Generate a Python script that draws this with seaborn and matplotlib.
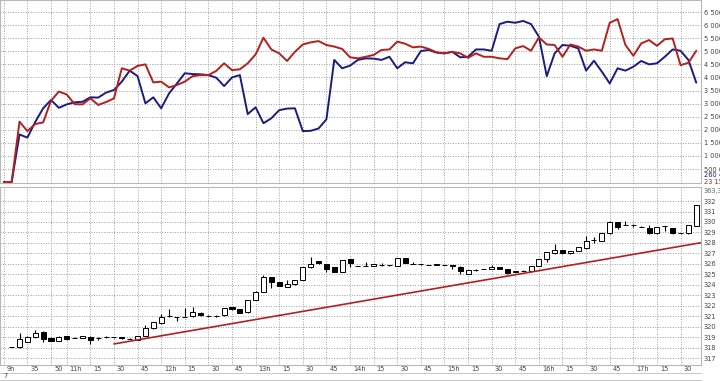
import numpy as np
import pandas as pd
import matplotlib
matplotlib.use("Agg")
import matplotlib.pyplot as plt
import matplotlib.transforms as mtransforms
from matplotlib import font_manager
from matplotlib.lines import Line2D
import seaborn as sns

# ---------------- data ----------------
# time slots (5-minute steps, 0 = 11h00)
line_slots = list(range(-8, 81))
blue_vals = [0.0, 0.0, 1.82, 1.70, 2.30, 2.82, 3.14, 2.84, 2.97, 3.05, 3.07, 3.24, 3.23, 3.42, 3.52,
             3.84, 4.26, 4.05, 3.01, 3.24, 2.82, 3.39, 3.77, 4.16, 4.13, 4.12, 4.09, 3.99, 3.67,
             4.00, 4.09, 2.60, 2.86, 2.25, 2.44, 2.75, 2.81, 2.82, 1.95, 1.96, 2.05, 2.40, 4.67,
             4.35, 4.45, 4.67, 4.73, 4.72, 4.67, 4.79, 4.35, 4.58, 4.54, 5.01, 5.05, 4.95, 4.92,
             4.98, 4.77, 4.79, 5.07, 5.07, 5.02, 6.04, 6.13, 6.09, 6.16, 6.04, 5.56, 4.05, 4.92,
             5.24, 5.21, 5.11, 4.26, 4.64, 4.22, 3.77, 4.35, 4.26, 4.41, 4.63, 4.50, 4.54, 4.79,
             5.07, 5.02, 4.67, 3.80]
red_vals = [0.0, 0.0, 2.31, 1.95, 2.22, 2.28, 3.11, 3.46, 3.35, 2.98, 2.97, 3.20, 2.95, 3.06, 3.20,
            4.35, 4.26, 4.44, 4.50, 3.81, 3.84, 3.62, 3.71, 3.84, 4.05, 4.09, 4.09, 4.25, 4.54,
            4.28, 4.31, 4.54, 4.88, 5.52, 5.07, 4.92, 4.63, 4.98, 5.26, 5.34, 5.39, 5.24, 5.18,
            5.09, 4.77, 4.73, 4.79, 4.86, 5.05, 5.07, 5.37, 5.29, 5.15, 5.18, 5.09, 4.96, 4.92,
            4.98, 4.92, 4.75, 4.92, 4.79, 4.79, 4.73, 4.70, 5.11, 5.20, 5.02, 5.53, 5.26, 5.24,
            4.79, 5.26, 5.18, 5.02, 5.07, 5.02, 6.09, 6.23, 5.24, 4.83, 5.30, 5.43, 5.21, 5.46,
            5.49, 4.47, 4.56, 5.02]

candle_slots = list(range(-7, 81))
opens = [318.08, 318.05, 318.56, 319.04, 319.52, 318.94, 318.66, 319.10, 318.94, 318.90, 319.04,
         318.90, 318.97, 318.97, 319.04, 318.85, 318.72, 319.10, 319.83, 320.31, 321.00, 320.90,
         320.95, 320.99, 321.33, 321.04, 321.04, 321.08, 321.84, 321.65, 321.36, 322.54, 323.34,
         324.71, 324.29, 323.80, 324.04, 324.45, 325.66, 326.27, 325.98, 325.66, 325.20, 326.43,
         325.80, 325.80, 325.80, 325.90, 325.86, 325.80, 326.58, 325.98, 325.95, 325.90, 325.90,
         325.90, 325.90, 325.73, 325.06, 325.40, 325.50, 325.50, 325.66, 325.47, 325.25, 325.35,
         325.28, 325.82, 326.46, 326.99, 327.32, 327.00, 327.22, 327.48, 328.27, 328.20, 328.90,
         329.96, 329.70, 329.70, 329.55, 329.45, 328.90, 329.60, 329.45, 328.90, 328.90, 329.65]
highs = [318.08, 319.36, 319.15, 319.68, 319.60, 318.98, 319.08, 319.14, 319.00, 319.12, 319.08,
         319.06, 319.12, 319.00, 319.06, 318.88, 319.12, 320.15, 320.46, 321.20, 321.65, 320.95,
         321.75, 321.85, 321.36, 321.15, 321.15, 321.82, 321.86, 321.67, 322.56, 323.36, 324.95,
         324.73, 324.31, 324.45, 324.47, 325.68, 326.62, 326.29, 326.00, 325.68, 326.38, 326.45,
         325.82, 326.20, 326.00, 326.05, 325.88, 326.60, 326.60, 326.20, 325.97, 325.92, 326.02,
         325.92, 325.92, 325.75, 325.46, 325.50, 325.52, 325.85, 325.68, 325.49, 325.35, 325.37,
         325.84, 326.48, 327.12, 327.87, 327.34, 327.22, 327.60, 328.70, 328.60, 328.99, 330.05,
         329.98, 330.08, 329.85, 329.57, 329.70, 329.50, 329.62, 329.47, 328.92, 329.72, 331.64]
lows = [318.08, 318.00, 318.50, 318.90, 318.56, 318.62, 318.62, 318.76, 318.88, 318.88, 318.35,
        318.70, 318.95, 318.95, 318.86, 318.82, 318.70, 319.08, 319.80, 320.30, 320.95, 320.50,
        320.93, 320.97, 321.05, 320.95, 320.95, 321.05, 321.63, 321.30, 321.34, 322.52, 323.32,
        323.66, 323.89, 323.78, 324.02, 324.43, 325.64, 326.02, 325.22, 325.23, 325.18, 325.70,
        325.78, 325.78, 325.78, 325.75, 325.84, 325.78, 326.08, 325.96, 325.93, 325.88, 325.88,
        325.88, 325.50, 325.00, 325.04, 325.30, 325.48, 325.48, 325.52, 325.07, 325.20, 325.33,
        325.26, 325.80, 326.20, 326.97, 326.97, 326.98, 327.20, 327.46, 328.00, 328.18, 328.88,
        329.30, 329.68, 329.55, 329.53, 328.88, 328.88, 329.10, 328.88, 328.88, 328.88, 329.63]
closes = [318.08, 318.80, 319.04, 319.42, 318.80, 318.66, 319.04, 318.80, 318.94, 319.10, 318.72,
          318.90, 318.97, 318.97, 318.88, 318.85, 319.10, 319.83, 320.44, 320.95, 321.00, 320.90,
          320.95, 321.40, 321.08, 321.04, 321.04, 321.80, 321.65, 321.33, 322.54, 323.34, 324.71,
          324.29, 323.91, 324.07, 324.45, 325.66, 325.98, 326.04, 325.50, 325.25, 326.36, 326.04,
          325.80, 325.80, 325.98, 325.90, 325.86, 326.58, 326.10, 325.98, 325.95, 325.90, 326.00,
          325.90, 325.75, 325.31, 325.44, 325.40, 325.50, 325.66, 325.54, 325.09, 325.33, 325.35,
          325.82, 326.46, 327.10, 327.32, 326.99, 327.20, 327.57, 328.18, 328.27, 328.97, 330.03,
          329.55, 329.70, 329.70, 329.55, 328.90, 329.48, 329.60, 328.90, 328.90, 329.70, 331.62]

trend_x = [6.0, 80.6]
trend_y = [318.35, 328.02]

tick_slots = [-8, -5, -2, 0, 3, 6, 9, 12, 15, 18, 21, 24, 27, 30, 33, 36, 39, 42, 45, 48,
              51, 54, 57, 60, 63, 66, 69, 72, 75, 78]
tick_labels = ["9h", "35", "50", "11h", "15", "30", "45", "12h", "15", "30", "45", "13h", "15",
               "30", "45", "14h", "15", "30", "45", "15h", "15", "30", "45", "16h", "15", "30",
               "45", "17h", "15", "30"]
top_ticks = [0.5, 1.0, 1.5, 2.0, 2.5, 3.0, 3.5, 4.0, 4.5, 5.0, 5.5, 6.0, 6.5]
top_tick_labels = ["500 000", "1 000 000", "1 500 000", "2 000 000", "2 500 000", "3 000 000",
                   "3 500 000", "4 000 000", "4 500 000", "5 000 000", "5 500 000", "6 000 000",
                   "6 500 000"]
bottom_ticks = list(range(317, 333))
date_label = "7"

# ---------------- style ----------------
sns.set_style("white")
plt.rcParams['font.family'] = ['DejaVu Sans']


def has_font(name):
    try:
        font_manager.findfont(name, fallback_to_default=False)
        return True
    except Exception:
        return False


NARROW = "Liberation Sans Narrow" if has_font("Liberation Sans Narrow") else "DejaVu Sans"
BLUE = "#1b1b86"
RED = "#b3201f"
GRID = dict(color="#9c9c9c", linestyle=(0, (1, 1.6)), linewidth=0.7)
SPINE = "#b8b8b8"
FS = 4.8
TXT = "#444444"

fig = plt.figure(figsize=(7.2, 3.81), dpi=100)
W, H = 720, 381
xr = 701 / W
ax1 = fig.add_axes([0, (H - 183) / H, xr, 183 / H])
ax2 = fig.add_axes([0, (H - 365) / H, xr, (365 - 187) / H])

xlim = (-8.48, 80.6)

# ---- top panel ----
df = pd.DataFrame({"slot": line_slots * 2,
                   "value": blue_vals + red_vals,
                   "series": ["blue"] * len(line_slots) + ["red"] * len(line_slots)})
sns.lineplot(data=df, x="slot", y="value", hue="series",
             palette={"blue": BLUE, "red": RED}, linewidth=1.4, ax=ax1, legend=False)
ax1.set_xlim(*xlim)
ax1.set_ylim(-0.034, 6.96)
ax1.set_xticks(tick_slots)
ax1.set_yticks(top_ticks)
ax1.set_yticklabels(top_tick_labels, family=NARROW)
ax1.yaxis.tick_right()
ax1.tick_params(axis="y", length=0, pad=2.0, labelsize=FS, labelcolor=TXT)
ax1.tick_params(axis="x", length=0, labelbottom=False)
ax1.grid(True, **GRID)
ax1.set_xlabel("")
ax1.set_ylabel("")

off = mtransforms.ScaledTranslation(3 / 100, 0, fig.dpi_scale_trans)
tr1 = mtransforms.blended_transform_factory(ax1.transAxes, ax1.transData) + off
ax1.text(1.0, 0.26, "260 414", transform=tr1, fontsize=FS, color=BLUE, va="center", ha="left",
         family=NARROW)
ax1.text(1.0, 0.023, "23 159", transform=tr1, fontsize=FS, color=RED, va="center", ha="left",
         family=NARROW)

# ---- bottom panel ----
o = np.array(opens)
c = np.array(closes)
xs = np.array(candle_slots)
ax2.vlines(xs, lows, highs, color="black", linewidth=0.8, zorder=3)
body_bottom = np.minimum(o, c)
body_h = np.abs(c - o)
colors = ["white" if cc >= oo else "black" for oo, cc in zip(o, c)]
ax2.bar(xs, body_h, bottom=body_bottom, width=0.64, color=colors,
        edgecolor="black", linewidth=0.7, zorder=4)
ax2.plot(trend_x, trend_y, color=RED, linewidth=1.2, zorder=5)

ax2.set_xlim(*xlim)
ax2.set_ylim(316.34, 333.34)
ax2.set_yticks(bottom_ticks)
ax2.set_yticklabels([str(t) for t in bottom_ticks], family=NARROW)
ax2.yaxis.tick_right()
ax2.tick_params(axis="y", length=0, pad=2.0, labelsize=FS, labelcolor=TXT)
ax2.set_xticks(tick_slots)
ax2.set_xticklabels(tick_labels, family=NARROW)
ax2.tick_params(axis="x", direction="out", length=5, width=0.6, color="#9c9c9c",
                pad=-4.6, labelsize=FS, labelcolor=TXT)
for lab in ax2.get_xticklabels():
    lab.set_horizontalalignment("left")
    lab.set_transform(lab.get_transform() + off)
ax2.grid(True, **GRID)

tr2 = mtransforms.blended_transform_factory(ax2.transAxes, ax2.transData) + off
ax2.text(1.0, 333.0, "363,37", transform=tr2, fontsize=FS, color="#666666", va="center", ha="left",
         family=NARROW)

for ax in (ax1, ax2):
    for s in ax.spines.values():
        s.set_color(SPINE)
        s.set_linewidth(0.8)

# date row and separators
fig.text(3 / W, 1 - 376.5 / H, date_label, fontsize=FS, color=TXT, va="center", ha="left",
         family=NARROW)
fig.add_artist(Line2D([0, xr], [1 - 373 / H, 1 - 373 / H], color="#c8c8c8", linewidth=0.7))
fig.add_artist(Line2D([0, xr], [1 - 380 / H, 1 - 380 / H], color="#c8c8c8", linewidth=0.7))

fig.savefig("out.png", dpi=100)
